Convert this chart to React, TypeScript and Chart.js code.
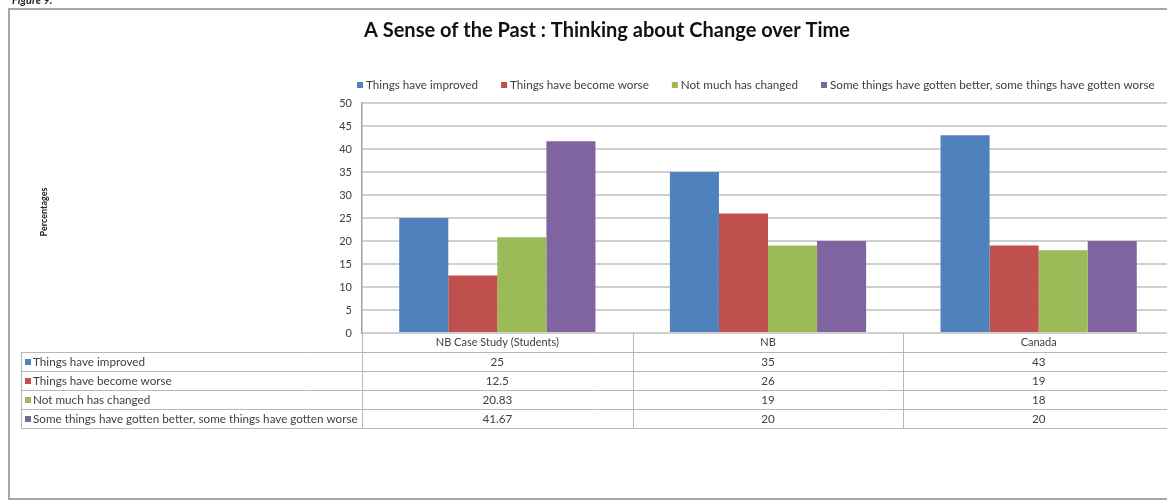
import React, { useEffect, useRef } from "react";
import { Chart, registerables } from "chart.js";

Chart.register(...registerables);

const figureLabel = "Figure 9:";
const chartTitle = "A Sense of the Past : Thinking about Change over Time";
const yAxisTitle = "Percentages";
const categories = ["NB Case Study (Students)", "NB", "Canada"];
const seriesNames = [
  "Things have improved",
  "Things have become worse",
  "Not much has changed",
  "Some things have gotten better, some things have gotten worse",
];
const improved = [25, 35, 43];
const worse = [12.5, 26, 19];
const notMuch = [20.83, 19, 18];
const mixed = [41.67, 20, 20];
const seriesColors = ["#4F81BD", "#C0504D", "#9BBB59", "#8064A2"];
const yMin = 0;
const yMax = 50;
const yStep = 5;

const FONT = "Lato, 'DejaVu Sans', sans-serif";

export default function App() {
  const ref = useRef<HTMLCanvasElement>(null);

  useEffect(() => {
    const canvas = ref.current;
    if (!canvas) return;
    const seriesData = [improved, worse, notMuch, mixed];

    const decor = {
      id: "decor",
      beforeDraw(chart: any) {
        const { ctx, width } = chart;
        ctx.save();
        ctx.fillStyle = "#ffffff";
        ctx.fillRect(0, 0, chart.width, chart.height);
        // frame
        ctx.strokeStyle = "#a6a6a6";
        ctx.lineWidth = 2;
        ctx.strokeRect(9, 9, width + 20, 490);
        // figure label (cut at top)
        ctx.fillStyle = "#222";
        ctx.font = `italic bold 11px ${FONT}`;
        ctx.textAlign = "left";
        ctx.textBaseline = "alphabetic";
        ctx.fillText(figureLabel, 12, 4);
        // title
        ctx.fillStyle = "#111";
        ctx.font = `bold 20px ${FONT}`;
        ctx.textAlign = "center";
        ctx.textBaseline = "middle";
        ctx.fillText(chartTitle, 607, 31);
        // y title
        ctx.save();
        ctx.translate(44, 212);
        ctx.rotate(-Math.PI / 2);
        ctx.font = `bold 9px ${FONT}`;
        ctx.fillStyle = "#222";
        ctx.fillText(yAxisTitle, 0, 0);
        ctx.restore();
        // legend
        ctx.font = `11.7px ${FONT}`;
        ctx.textAlign = "left";
        ctx.textBaseline = "middle";
        let x = 357;
        seriesNames.forEach((name, i) => {
          ctx.fillStyle = seriesColors[i];
          ctx.fillRect(x, 82, 6, 6);
          ctx.fillStyle = "#404040";
          ctx.fillText(name, x + 9, 85.5);
          x += 9 + ctx.measureText(name).width + 23;
        });
        ctx.restore();
      },
      afterDraw(chart: any) {
        const { ctx, chartArea } = chart;
        const xs = chart.scales.x;
        const n = categories.length;
        const colW = (xs.right - xs.left) / n;
        const rowH = 19;
        const top = Math.round(chartArea.bottom);
        const headerBottom = top + rowH;
        const tableLeft = 21;
        const tableBottom = headerBottom + seriesNames.length * rowH;
        ctx.save();
        ctx.strokeStyle = "#b8b8b8";
        ctx.lineWidth = 1;
        ctx.beginPath();
        for (let r = 0; r <= seriesNames.length; r++) {
          const y = headerBottom + r * rowH + 0.5;
          ctx.moveTo(tableLeft, y);
          ctx.lineTo(xs.right, y);
        }
        ctx.moveTo(tableLeft + 0.5, headerBottom);
        ctx.lineTo(tableLeft + 0.5, tableBottom);
        for (let i = 0; i <= n; i++) {
          const x = Math.round(xs.left + i * colW) + 0.5;
          ctx.moveTo(x, top);
          ctx.lineTo(x, tableBottom);
        }
        ctx.stroke();

        ctx.font = `11.7px ${FONT}`;
        ctx.textBaseline = "middle";
        seriesNames.forEach((name, r) => {
          const cy = headerBottom + r * rowH + rowH / 2 + 0.5;
          ctx.fillStyle = seriesColors[r];
          ctx.fillRect(tableLeft + 4, cy - 3, 6, 6);
          ctx.fillStyle = "#404040";
          ctx.textAlign = "left";
          ctx.fillText(name, tableLeft + 12, cy);
          ctx.textAlign = "center";
          seriesData[r].forEach((v, i) => {
            ctx.fillText(String(v), xs.getPixelForValue(i), cy);
          });
        });
        ctx.restore();
      },
    };

    const chart = new Chart(canvas, {
      type: "bar",
      data: {
        labels: categories,
        datasets: seriesNames.map((name, i) => ({
          label: name,
          data: seriesData[i],
          backgroundColor: seriesColors[i],
          borderWidth: 0,
          categoryPercentage: 0.725,
          barPercentage: 1,
        })),
      },
      options: {
        animation: false,
        responsive: false,
        devicePixelRatio: 1,
        layout: { padding: { left: 322, top: 103, right: 6, bottom: 74 } },
        plugins: {
          legend: { display: false },
          title: { display: false },
          tooltip: { enabled: false },
        },
        scales: {
          x: {
            grid: { display: false, drawTicks: false },
            border: { display: false },
            ticks: { color: "#404040", font: { family: FONT, size: 11 }, padding: 3, maxRotation: 0 },
            afterFit: (s: any) => {
              s.height = 95;
            },
          },
          y: {
            min: yMin,
            max: yMax,
            ticks: { stepSize: yStep, color: "#404040", font: { family: FONT, size: 11 }, padding: 10 },
            grid: { color: "#cfcfcf", lineWidth: 2, drawTicks: false },
            border: { display: true, color: "#a0a0a0", width: 1.5 },
            afterFit: (s: any) => {
              s.width = 40;
            },
          },
        },
      },
      plugins: [decor],
    });
    return () => chart.destroy();
  }, []);

  return (
    <div style={{ position: "absolute", left: 0, top: 0, width: 1167, height: 502, overflow: "hidden", background: "#fff" }}>
      <canvas ref={ref} width={1180} height={502} style={{ display: "block" }} />
    </div>
  );
}
